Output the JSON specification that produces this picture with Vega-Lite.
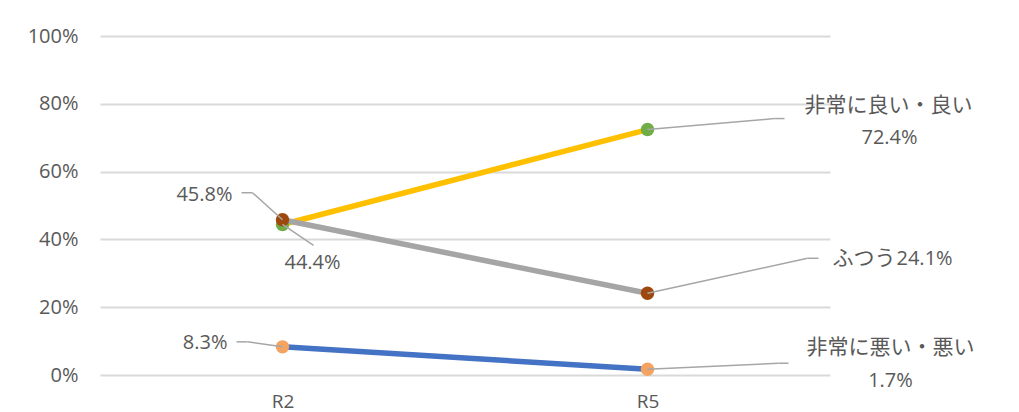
{
  "$schema": "https://vega.github.io/schema/vega-lite/v6.json",
  "width": 730,
  "height": 339,
  "autosize": {"type": "none"},
  "padding": {"left": 100, "top": 36, "right": 189, "bottom": 37},
  "background": "#ffffff",
  "config": {
    "view": {"stroke": null},
    "font": "Open Sans, Noto Sans CJK JP, sans-serif",
    "axis": {
      "labelFont": "Open Sans",
      "labelFontSize": 20,
      "labelColor": "#595959",
      "domain": false,
      "ticks": false,
      "gridColor": "#D9D9D9",
      "gridWidth": 1.8,
      "title": null
    },
    "text": {"font": "Open Sans, Noto Sans CJK JP, sans-serif", "fontSize": 20, "fill": "#595959", "baseline": "middle"}
  },
  "data": {
    "values": [
      {"series": "非常に良い・良い", "period": "R2", "value": 0.444},
      {"series": "非常に良い・良い", "period": "R5", "value": 0.724},
      {"series": "ふつう", "period": "R2", "value": 0.458},
      {"series": "ふつう", "period": "R5", "value": 0.241},
      {"series": "非常に悪い・悪い", "period": "R2", "value": 0.083},
      {"series": "非常に悪い・悪い", "period": "R5", "value": 0.017}
    ]
  },
  "encoding": {
    "x": {
      "field": "period", "type": "nominal",
      "scale": {"type": "point", "padding": 0.5},
      "axis": {"labelAngle": 0, "grid": false, "labelFontSize": 19, "labelBaseline": "alphabetic", "labelPadding": 32}
    },
    "y": {
      "field": "value", "type": "quantitative",
      "scale": {"domain": [0, 1]},
      "axis": {"format": ".0%", "values": [0, 0.2, 0.4, 0.6, 0.8, 1], "labelPadding": 22}
    }
  },
  "layer": [
    {
      "mark": {"type": "line", "strokeWidth": 5.5, "strokeCap": "round"},
      "encoding": {
        "stroke": {
          "field": "series", "type": "nominal", "legend": null,
          "scale": {"domain": ["非常に良い・良い", "ふつう", "非常に悪い・悪い"], "range": ["#FFC000", "#A5A5A5", "#4472C4"]}
        }
      }
    },
    {
      "mark": {"type": "point", "filled": true, "size": 180, "opacity": 1, "strokeWidth": 0},
      "encoding": {
        "fill": {
          "field": "series", "type": "nominal", "legend": null,
          "scale": {"domain": ["非常に良い・良い", "ふつう", "非常に悪い・悪い"], "range": ["#70AD47", "#9E480E", "#F4A460"]}
        }
      }
    },

    {
      "transform": [{"filter": "datum.series === '非常に良い・良い' && datum.period === 'R5'"}],
      "mark": {"type": "rule", "color": "#A6A6A6", "strokeWidth": 1.5, "x2Offset": 127, "y2Offset": -11},
      "encoding": {"x2": {"field": "period"}, "y2": {"field": "value"}}
    },
    {
      "transform": [{"filter": "datum.series === '非常に良い・良い' && datum.period === 'R5'"}],
      "mark": {"type": "rule", "color": "#A6A6A6", "strokeWidth": 1.5, "xOffset": 127, "yOffset": -11, "x2Offset": 137, "y2Offset": -11},
      "encoding": {"x2": {"field": "period"}, "y2": {"field": "value"}}
    },
    {
      "transform": [{"filter": "datum.series === '非常に良い・良い' && datum.period === 'R5'"}],
      "mark": {"type": "text", "fontSize": 21, "align": "center", "dx": 241, "dy": -24},
      "encoding": {"text": {"field": "series"}}
    },
    {
      "transform": [{"filter": "datum.series === '非常に良い・良い' && datum.period === 'R5'"}],
      "mark": {"type": "text", "align": "center", "dx": 242, "dy": 8},
      "encoding": {"text": {"field": "value", "type": "quantitative", "format": ".1%"}}
    },

    {
      "transform": [{"filter": "datum.series === 'ふつう' && datum.period === 'R5'"}],
      "mark": {"type": "rule", "color": "#A6A6A6", "strokeWidth": 1.5, "x2Offset": 160, "y2Offset": -35},
      "encoding": {"x2": {"field": "period"}, "y2": {"field": "value"}}
    },
    {
      "transform": [{"filter": "datum.series === 'ふつう' && datum.period === 'R5'"}],
      "mark": {"type": "rule", "color": "#A6A6A6", "strokeWidth": 1.5, "xOffset": 160, "yOffset": -35, "x2Offset": 171, "y2Offset": -35},
      "encoding": {"x2": {"field": "period"}, "y2": {"field": "value"}}
    },
    {
      "transform": [{"filter": "datum.series === 'ふつう' && datum.period === 'R5'"}],
      "mark": {"type": "text", "fontSize": 21, "align": "right", "dx": 248, "dy": -34},
      "encoding": {"text": {"field": "series"}}
    },
    {
      "transform": [{"filter": "datum.series === 'ふつう' && datum.period === 'R5'"}],
      "mark": {"type": "text", "align": "left", "dx": 249, "dy": -34},
      "encoding": {"text": {"field": "value", "type": "quantitative", "format": ".1%"}}
    },

    {
      "transform": [{"filter": "datum.series === '非常に悪い・悪い' && datum.period === 'R5'"}],
      "mark": {"type": "rule", "color": "#A6A6A6", "strokeWidth": 1.5, "x2Offset": 131, "y2Offset": -6},
      "encoding": {"x2": {"field": "period"}, "y2": {"field": "value"}}
    },
    {
      "transform": [{"filter": "datum.series === '非常に悪い・悪い' && datum.period === 'R5'"}],
      "mark": {"type": "rule", "color": "#A6A6A6", "strokeWidth": 1.5, "xOffset": 131, "yOffset": -6, "x2Offset": 141, "y2Offset": -6},
      "encoding": {"x2": {"field": "period"}, "y2": {"field": "value"}}
    },
    {
      "transform": [{"filter": "datum.series === '非常に悪い・悪い' && datum.period === 'R5'"}],
      "mark": {"type": "text", "fontSize": 21, "align": "center", "dx": 243, "dy": -21},
      "encoding": {"text": {"field": "series"}}
    },
    {
      "transform": [{"filter": "datum.series === '非常に悪い・悪い' && datum.period === 'R5'"}],
      "mark": {"type": "text", "align": "center", "dx": 243, "dy": 12},
      "encoding": {"text": {"field": "value", "type": "quantitative", "format": ".1%"}}
    },

    {
      "transform": [{"filter": "datum.series === 'ふつう' && datum.period === 'R2'"}],
      "mark": {"type": "rule", "color": "#A6A6A6", "strokeWidth": 1.5, "x2Offset": -30, "y2Offset": -27},
      "encoding": {"x2": {"field": "period"}, "y2": {"field": "value"}}
    },
    {
      "transform": [{"filter": "datum.series === 'ふつう' && datum.period === 'R2'"}],
      "mark": {"type": "rule", "color": "#A6A6A6", "strokeWidth": 1.5, "xOffset": -30, "yOffset": -27, "x2Offset": -41, "y2Offset": -27},
      "encoding": {"x2": {"field": "period"}, "y2": {"field": "value"}}
    },
    {
      "transform": [{"filter": "datum.series === 'ふつう' && datum.period === 'R2'"}],
      "mark": {"type": "text", "align": "right", "dx": -50, "dy": -25},
      "encoding": {"text": {"field": "value", "type": "quantitative", "format": ".1%"}}
    },

    {
      "transform": [{"filter": "datum.series === '非常に良い・良い' && datum.period === 'R2'"}],
      "mark": {"type": "rule", "color": "#A6A6A6", "strokeWidth": 1.5, "x2Offset": 31, "y2Offset": 21},
      "encoding": {"x2": {"field": "period"}, "y2": {"field": "value"}}
    },
    {
      "transform": [{"filter": "datum.series === '非常に良い・良い' && datum.period === 'R2'"}],
      "mark": {"type": "text", "align": "center", "dx": 30, "dy": 39},
      "encoding": {"text": {"field": "value", "type": "quantitative", "format": ".1%"}}
    },

    {
      "transform": [{"filter": "datum.series === '非常に悪い・悪い' && datum.period === 'R2'"}],
      "mark": {"type": "rule", "color": "#A6A6A6", "strokeWidth": 1.5, "x2Offset": -35, "y2Offset": -5},
      "encoding": {"x2": {"field": "period"}, "y2": {"field": "value"}}
    },
    {
      "transform": [{"filter": "datum.series === '非常に悪い・悪い' && datum.period === 'R2'"}],
      "mark": {"type": "rule", "color": "#A6A6A6", "strokeWidth": 1.5, "xOffset": -35, "yOffset": -5, "x2Offset": -46, "y2Offset": -5},
      "encoding": {"x2": {"field": "period"}, "y2": {"field": "value"}}
    },
    {
      "transform": [{"filter": "datum.series === '非常に悪い・悪い' && datum.period === 'R2'"}],
      "mark": {"type": "text", "align": "right", "dx": -55, "dy": -4},
      "encoding": {"text": {"field": "value", "type": "quantitative", "format": ".1%"}}
    }
  ]
}
